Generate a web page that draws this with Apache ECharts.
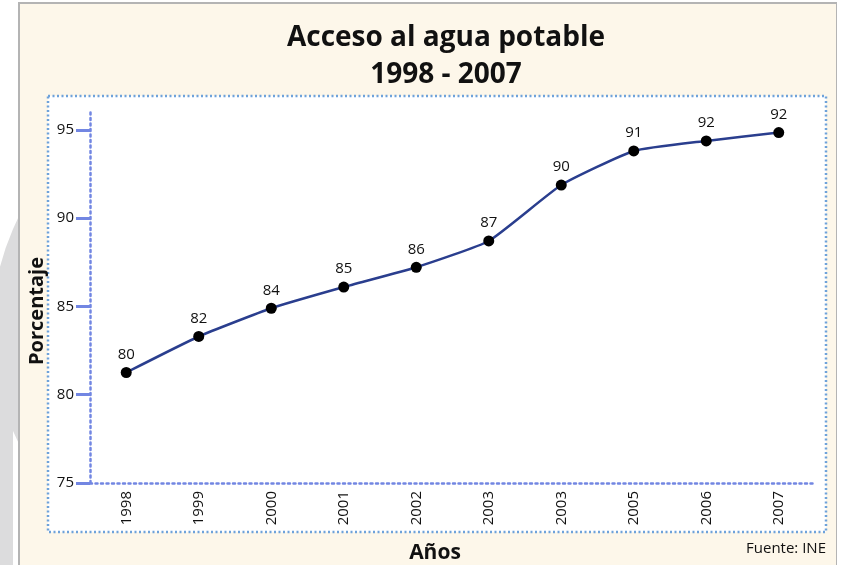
<!DOCTYPE html>
<html>
<head>
<meta charset="utf-8">
<script src="https://cdn.jsdelivr.net/npm/echarts@6/dist/echarts.min.js"></script>
<style>
  html, body { margin: 0; padding: 0; background: #fff; }
  #chart { width: 848px; height: 565px; }
</style>
</head>
<body>
<div id="chart"></div>
<script>
// datos
var years = ['1998', '1999', '2000', '2001', '2002', '2003', '2003', '2005', '2006', '2007']
var values = [81.26, 83.3, 84.9, 86.1, 87.22, 88.71, 91.88, 93.81, 94.38, 94.85]
var pointLabels = ['80', '82', '84', '85', '86', '87', '90', '91', '92', '92']
var yTicks = [75, 80, 85, 90, 95]

var font = 'Open Sans'
var axisBlue = '#7286e2'
var boxBlue = '#6ea2da'
var cream = '#fdf7ea'
var watermark = '#dcdcdd'

var myChart = echarts.init(document.getElementById('chart'))
var option = {
  backgroundColor: '#fff',
  textStyle: { fontFamily: font },
  title: {
    text: 'Acceso al agua potable\n1998 - 2007',
    left: 441,
    top: 15,
    textAlign: 'center',
    textStyle: { fontSize: 28, fontWeight: 'bold', color: '#111', lineHeight: 37, fontFamily: font }
  },
  graphic: [
    // marca de agua a la izquierda
    { type: 'arc', z: -30, shape: { cx: 245, cy: 330, r: 238, startAngle: Math.PI * 0.75, endAngle: Math.PI * 1.3 },
      style: { stroke: watermark, lineWidth: 30, fill: null } },
    { type: 'polygon', z: -30, shape: { points: [[0, 300], [20, 280], [20, 305], [0, 345]] }, style: { fill: watermark } },
    { type: 'rect', z: -30, shape: { x: 0, y: 385, width: 13, height: 180 }, style: { fill: watermark } },
    // marco crema
    { type: 'rect', z: -20, shape: { x: 19, y: 3, width: 818, height: 570 },
      style: { fill: cream, stroke: '#b4b4b4', lineWidth: 2 } },
    { type: 'rect', z: -19, shape: { x: 837, y: 0, width: 20, height: 565 }, style: { fill: '#fff' } },
    // caja punteada blanca
    { type: 'rect', z: -10, shape: { x: 48, y: 96, width: 778, height: 436 },
      style: { fill: '#fff', stroke: boxBlue, lineWidth: 2.5, lineDash: [2, 2.5] } },
    { type: 'text', z: 10, left: 27, top: 257,
      style: { text: 'Porcentaje', fontSize: 20, fontWeight: 'bold', fill: '#111', fontFamily: font },
      rotation: Math.PI / 2, originX: 0, originY: 0 },
    { type: 'text', z: 10, style: { text: 'Años', x: 435, y: 553, align: 'center', verticalAlign: 'middle',
      fontSize: 21, fontWeight: 'bold', fill: '#111', fontFamily: font } },
    { type: 'text', z: 10, style: { text: 'Fuente: INE', x: 826, y: 549, align: 'right', verticalAlign: 'middle',
      fontSize: 15, fill: '#111', fontFamily: font } }
  ],
  grid: { left: 90, right: 33, top: 110, bottom: 82 },
  xAxis: {
    type: 'category',
    data: years,
    boundaryGap: true,
    axisLine: { lineStyle: { color: axisBlue, width: 2.5, type: [2, 3.5] } },
    axisTick: { length: 14, lineStyle: { color: axisBlue, width: 3 } },
    axisLabel: { rotate: 90, fontSize: 15, color: '#111', margin: 8, fontFamily: font, interval: 0 }
  },
  yAxis: {
    type: 'value',
    min: 75,
    max: 96.13,
    axisLine: { show: true, lineStyle: { color: axisBlue, width: 2.5, type: [2, 3.5] } },
    axisTick: { show: true, length: 14, customValues: yTicks, lineStyle: { color: axisBlue, width: 3 } },
    axisLabel: { fontSize: 15, color: '#111', margin: 16, customValues: yTicks, fontFamily: font },
    splitLine: { show: false }
  },
  series: [{
    type: 'line',
    data: values,
    smooth: 0.15,
    symbol: 'circle',
    symbolSize: 11,
    lineStyle: { color: '#2a3e8e', width: 2.5 },
    itemStyle: { color: '#000' },
    label: {
      show: true,
      position: 'top',
      distance: 5,
      fontSize: 15,
      color: '#111',
      fontFamily: font,
      formatter: function (p) { return pointLabels[p.dataIndex] }
    }
  }]
}
myChart.setOption(option)
</script>
</body>
</html>
